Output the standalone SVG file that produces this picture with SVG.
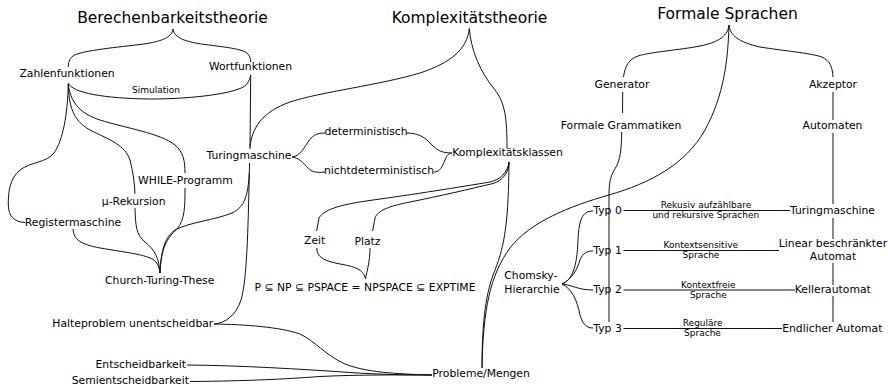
<svg xmlns="http://www.w3.org/2000/svg" width="889" height="386" viewBox="0 0 889 386">
<style>
text{font-family:"DejaVu Sans","Liberation Sans",sans-serif;fill:#000}
.h{font-size:15.5px}
.t{font-size:10.8px}
.s{font-size:9px}
.m{text-anchor:middle}
.e{text-anchor:end}
#connectors path{fill:none;stroke:#111;stroke-width:1}
</style>
<rect width="889" height="386" fill="#fff"/>
<g id="connectors">
<path d="M173,29 C172,38 160,42 140,44.5 C110,48 80,51 73,56 C69,59 68.5,63 68.3,67"/>
<path d="M173,29 C174,38 186,42 205,44.5 C225,47 242,49 247,53 C250,56 250.7,59 250.7,62"/>
<path d="M68.3,83 C72,93 105,98.5 150,99 C195,99 238,93 246,85 C249,81 250.5,78 250.7,75"/>
<path d="M250.7,75 L250,149"/>
<path d="M249.5,163 L249.3,175 C248,230 247,280 241,300 C236,315 226,323 214,324"/>
<path d="M469.3,28.5 C467,50 450,63 420,73 C380,85 320,92 290,102 C262,112 252,128 250,147"/>
<path d="M469.3,28.5 C471,50 480,72 495,90 C505,103 507,118 507,148"/>
<path d="M292,157 C300,156 304,148 308,142 C312,136 316,133 325,133"/>
<path d="M292,157 C300,158 304,164 308,168 C312,172 316,173 325,172"/>
<path d="M406.7,133 C418,133 425,137 432,145 C438,151 443,153 452,153"/>
<path d="M434,172 C440,172 442,167 445,160 C447,155 449,153 452,153"/>
<path d="M509,162 C508,172 500,180 490,182 C460,187 410,195 373,200 C345,204 325,208 319,218 L316.7,231"/>
<path d="M509,162 C509,173 502,181 493,183.5 C470,189 440,196 410,202 C390,206 378,210 375,218 L372.7,231"/>
<path d="M316.7,248 C317,258 325,261 340,264 C358,267 364,271 365.5,279"/>
<path d="M370,248 C370,262 367,270 365.5,279"/>
<path d="M509,162 C508.5,220 505,245 495,270 C486,292 482,320 482,368"/>
<path d="M729,25 C728,60 724,95 705,130 C685,165 650,183 609,195 C570,206 530,222 510,248 C490,275 483,310 482,368"/>
<path d="M729,25 C728,35 720,42 700,46 C680,50 650,52 638,56 C629,59 625,66 623.5,77"/>
<path d="M729,25 C730,35 738,42 760,47 C785,51 810,53 822,57 C830,61 832.5,67 833,77"/>
<path d="M622.7,92 L622.5,113"/>
<path d="M621.7,132 C621.5,150 620,160 616,167 C611,175 609,180 609,195 L609,322"/>
<path d="M833,92 L833,120 M833,133 L833,204 M833,218 L833,239 M833,263 L833,285 M833,296 L833,322"/>
<path d="M562,284 C572,280 577,268 578,240 C579,220 582,211 593,211"/>
<path d="M562,284 C572,279 577,270 580,260 C583,253 587,251 593,251"/>
<path d="M562,284 C572,285 578,290 593,290"/>
<path d="M562,284 C572,289 577,300 580,315 C583,325 587,328 593,328"/>
<path d="M623.5,210.5 L790,210.5"/>
<path d="M623.5,250.5 L779,250.5"/>
<path d="M623.5,290 L795,290"/>
<path d="M623.5,328.5 L782,328.5"/>
<path d="M68.3,84 C67.5,115 63,140 54,153 C46,163 30,162 20,170 C10,178 8,192 8.3,205 C8.5,216 14,222 25,222.5"/>
<path d="M68.3,84 C69,105 72,120 90,130 C110,140 125,145 130,160 C133,172 134.5,182 135,194"/>
<path d="M135,208 C135.5,225 136,235 145,242 C155,250 159,258 160,273"/>
<path d="M68.3,84 C70,100 78,113 100,120 C125,128 160,133 175,145 C183,152 185,160 185,173"/>
<path d="M185,188 C185,205 185,220 177,229 C167,238 161,248 160,273"/>
<path d="M73,229 C74,240 80,244 100,248 C130,253 150,255 156,262 C158.5,265 159.5,269 160,273"/>
<path d="M249.3,173 C248,195 245,207 232,213 C215,220 190,222 175,230 C165,237 161,250 160,273"/>
<path d="M214,324 C245,324.5 280,327 300,334 C315,341 325,355 345,364 C365,372 395,374 432,375"/>
<path d="M187,365 C240,365.5 300,369 350,372.5 C380,374.5 410,375 432,375"/>
<path d="M190,381.5 C250,381 285,379 320,376.5 C360,374.5 400,375 432,375"/>
</g>
<g id="berechenbarkeitstheorie"><text class="h m" x="172.5" y="23.3">Berechenbarkeitstheorie</text></g>
<g id="komplexitaetstheorie"><text class="h m" x="469.5" y="23.3">Komplexitätstheorie</text></g>
<g id="formale-sprachen"><text class="h m" x="727.5" y="18.5">Formale Sprachen</text></g>
<g id="zahlenfunktionen"><text class="t m" x="67" y="77">Zahlenfunktionen</text></g>
<g id="wortfunktionen"><text class="t m" x="250.5" y="70">Wortfunktionen</text></g>
<g id="simulation"><text class="s m" x="156" y="93.3">Simulation</text></g>
<g id="turingmaschine1"><text class="t m" x="249" y="159">Turingmaschine</text></g>
<g id="deterministisch"><text class="t m" x="366" y="135">deterministisch</text></g>
<g id="nichtdeterministisch"><text class="t m" x="379" y="174">nichtdeterministisch</text></g>
<g id="komplexitaetsklassen"><text class="t m" x="507.5" y="156">Komplexitätsklassen</text></g>
<g id="while"><text class="t m" x="185.5" y="184">WHILE-Programm</text></g>
<g id="mu-rekursion"><text class="t m" x="133.7" y="205">μ-Rekursion</text></g>
<g id="registermaschine"><text class="t m" x="73" y="225.7">Registermaschine</text></g>
<g id="church-turing"><text class="t m" x="159.7" y="284">Church-Turing-These</text></g>
<g id="halteproblem"><text class="t e" x="213.3" y="326.7">Halteproblem unentscheidbar</text></g>
<g id="entscheidbarkeit"><text class="t e" x="186" y="367.7">Entscheidbarkeit</text></g>
<g id="semientscheidbarkeit"><text class="t e" x="189" y="384">Semientscheidbarkeit</text></g>
<g id="zeit"><text class="t m" x="314.7" y="244.3">Zeit</text></g>
<g id="platz"><text class="t m" x="367.5" y="245">Platz</text></g>
<g id="klassen-formel"><text class="t m" x="365" y="290.7">P ⊆ NP ⊆ PSPACE = NPSPACE ⊆ EXPTIME</text></g>
<g id="probleme-mengen"><text class="t" x="432.3" y="377.3">Probleme/Mengen</text></g>
<g id="chomsky"><text class="t" x="504.3" y="279.3">Chomsky-</text><text class="t" x="504.3" y="293.3">Hierarchie</text></g>
<g id="generator"><text class="t m" x="622" y="88.3">Generator</text></g>
<g id="akzeptor"><text class="t m" x="833" y="88.3">Akzeptor</text></g>
<g id="formale-grammatiken"><text class="t m" x="621" y="129.3">Formale Grammatiken</text></g>
<g id="automaten"><text class="t m" x="832.5" y="129.3">Automaten</text></g>
<g id="typ0"><text class="t" x="593.3" y="214">Typ 0</text></g>
<g id="typ1"><text class="t" x="593.3" y="254">Typ 1</text></g>
<g id="typ2"><text class="t" x="593.3" y="293.3">Typ 2</text></g>
<g id="typ3"><text class="t" x="593.3" y="331.7">Typ 3</text></g>
<g id="label-typ0"><text class="s m" x="706" y="207.7">Rekusiv aufzählbare</text><text class="s m" x="705.8" y="217.7">und rekursive Sprachen</text></g>
<g id="label-typ1"><text class="s m" x="700.8" y="247.7">Kontextsensitive</text><text class="s m" x="701" y="258.3">Sprache</text></g>
<g id="label-typ2"><text class="s m" x="708.3" y="288.3">Kontextfreie</text><text class="s m" x="708.3" y="298.3">Sprache</text></g>
<g id="label-typ3"><text class="s m" x="702.7" y="326">Reguläre</text><text class="s m" x="702.5" y="336">Sprache</text></g>
<g id="turingmaschine2"><text class="t m" x="832.5" y="214">Turingmaschine</text></g>
<g id="lba"><text class="t m" x="833" y="247.3">Linear beschränkter</text><text class="t m" x="833" y="260">Automat</text></g>
<g id="kellerautomat"><text class="t m" x="832.8" y="293.3">Kellerautomat</text></g>
<g id="endlicher-automat"><text class="t m" x="832.3" y="331.7">Endlicher Automat</text></g>
</svg>
